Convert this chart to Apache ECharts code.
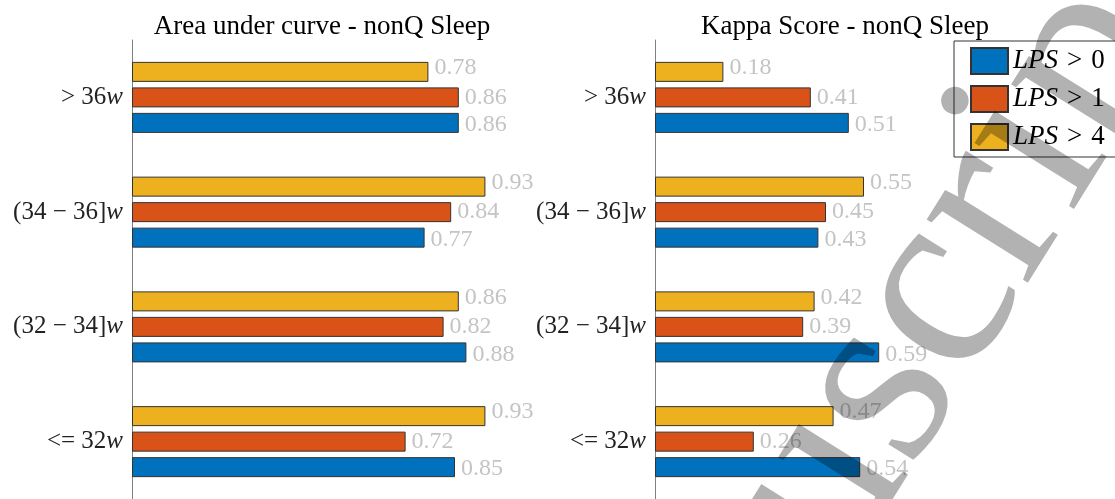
<!DOCTYPE html>
<html>
<head>
<meta charset="utf-8">
<script src="https://cdn.jsdelivr.net/npm/echarts@6/dist/echarts.min.js"></script>
<style>
  html, body { margin: 0; padding: 0; background: #fff; }
  #chart { width: 1115px; height: 499px; }
</style>
</head>
<body>
<div id="chart"></div>
<script>
// Gestational-age groups, bottom to top
const categories = ['<= 32w', '(32 − 34]w', '(34 − 36]w', '> 36w'];
const seriesNames = ['LPS > 0', 'LPS > 1', 'LPS > 4'];

// Area under curve per group
const aucLps0 = [0.85, 0.88, 0.77, 0.86];
const aucLps1 = [0.72, 0.82, 0.84, 0.86];
const aucLps4 = [0.93, 0.86, 0.93, 0.78];

// Kappa score per group
const kappaLps0 = [0.54, 0.59, 0.43, 0.51];
const kappaLps1 = [0.26, 0.39, 0.45, 0.41];
const kappaLps4 = [0.47, 0.42, 0.55, 0.18];

const panelTitles = ['Area under curve - nonQ Sleep', 'Kappa Score - nonQ Sleep'];
const watermarkText = 'Manuscript';

const SERIF = '"Liberation Serif", "Times New Roman", serif';
const colors = ['#0072BD', '#D95319', '#EDB120'];
const labelOffsets = [[0, 2], [0, 0], [0, -4]];

function barSeries(name, data, idx, panel) {
  return {
    name: name,
    type: 'bar',
    xAxisIndex: panel,
    yAxisIndex: panel,
    data: data,
    barWidth: 20,
    barGap: '27.5%',
    itemStyle: { color: colors[idx], borderColor: '#333', borderWidth: 1 },
    label: {
      show: true,
      position: 'right',
      distance: 6,
      offset: labelOffsets[idx],
      formatter: p => p.value.toFixed(2),
      color: '#c4c4c4',
      fontFamily: SERIF,
      fontSize: 24
    },
    emphasis: { disabled: true }
  };
}

function yAxisFor(panel) {
  return {
    type: 'category',
    gridIndex: panel,
    data: categories,
    axisLine: { show: true, lineStyle: { color: '#808080', width: 1 } },
    axisTick: { show: true, inside: true, alignWithLabel: true, length: 4, lineStyle: { color: '#333' } },
    axisLabel: {
      margin: 9,
      formatter: v => '{r|' + v.slice(0, -1) + '}{i|' + v.slice(-1) + '}',
      rich: {
        r: { fontFamily: SERIF, fontSize: 25, color: '#222' },
        i: { fontFamily: SERIF, fontSize: 25, color: '#222', fontStyle: 'italic' }
      }
    },
    splitLine: { show: false }
  };
}

function xAxisFor(panel) {
  return { type: 'value', gridIndex: panel, min: 0, max: 1, show: false };
}

// Series are listed top bar first within each group (LPS > 4, LPS > 1, LPS > 0)
function panelSeries(panel, lps0, lps1, lps4) {
  return [
    barSeries(seriesNames[2], lps4, 2, panel),
    barSeries(seriesNames[1], lps1, 1, panel),
    barSeries(seriesNames[0], lps0, 0, panel)
  ];
}

const chart = echarts.init(document.getElementById('chart'), null, { renderer: 'canvas' });

chart.setOption({
  animation: false,
  backgroundColor: '#fff',
  title: [
    { text: panelTitles[0], left: 317, textAlign: 'center', top: 8,
      textStyle: { fontFamily: SERIF, fontSize: 27, fontWeight: 'normal', color: '#000' } },
    { text: panelTitles[1], left: 840, textAlign: 'center', top: 8,
      textStyle: { fontFamily: SERIF, fontSize: 27, fontWeight: 'normal', color: '#000' } }
  ],
  grid: [
    { left: 132, top: 40, width: 380, height: 460 },
    { left: 655, top: 40, width: 380, height: 460 }
  ],
  xAxis: [xAxisFor(0), xAxisFor(1)],
  yAxis: [yAxisFor(0), yAxisFor(1)],
  legend: {
    orient: 'vertical',
    left: 954,
    top: 41,
    padding: [6, 40, 6, 16],
    itemWidth: 37,
    itemHeight: 26,
    itemGap: 10,
    icon: 'rect',
    borderColor: '#333',
    borderWidth: 1,
    backgroundColor: '#fff',
    data: seriesNames,
    formatter: n => {
      const parts = n.split(' > ');
      return '{i|' + parts[0] + '}{g|>}{n|' + parts[1] + '}';
    },
    textStyle: {
      fontFamily: SERIF, fontSize: 27, color: '#000', lineHeight: 26,
      rich: {
        i: { fontFamily: SERIF, fontSize: 27, fontStyle: 'italic', color: '#000', lineHeight: 26 },
        g: { fontFamily: SERIF, fontSize: 27, color: '#000', padding: [0, 9, 0, 9], lineHeight: 26 },
        n: { fontFamily: SERIF, fontSize: 27, color: '#000', lineHeight: 26 }
      }
    }
  },
  series: [
    ...panelSeries(0, aucLps0, aucLps1, aucLps4),
    ...panelSeries(1, kappaLps0, kappaLps1, kappaLps4)
  ],
  graphic: [{
    type: 'text',
    x: 531,
    y: 949,
    rotation: 58 * Math.PI / 180,
    z: 100,
    silent: true,
    style: {
      text: watermarkText,
      font: '260px ' + SERIF,
      fill: 'rgba(0,0,0,0.3)',
      textVerticalAlign: 'middle',
      verticalAlign: 'middle'
    }
  }]
});
</script>
</body>
</html>
